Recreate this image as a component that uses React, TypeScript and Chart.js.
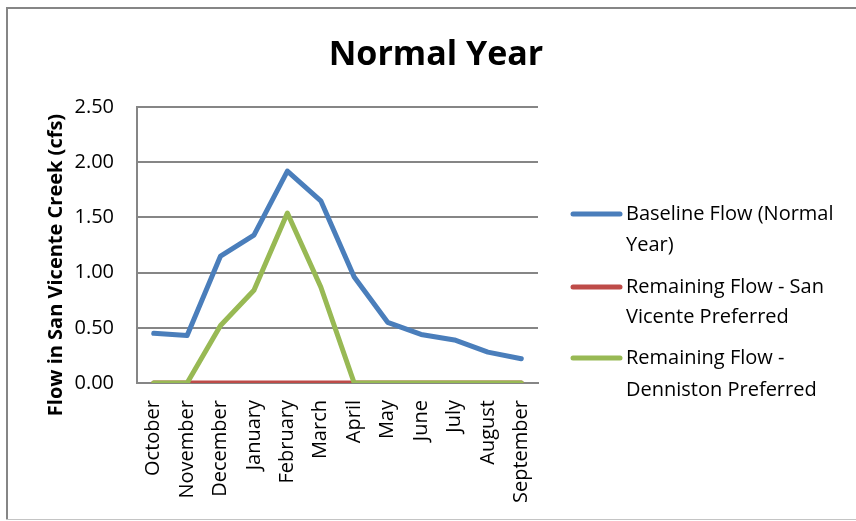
import React, { useEffect, useRef } from "react";
import { Chart, registerables } from "chart.js";

Chart.register(...registerables);

const months = ["October", "November", "December", "January", "February", "March", "April", "May", "June", "July", "August", "September"];
const baselineFlow = [0.45, 0.43, 1.15, 1.34, 1.92, 1.65, 0.96, 0.55, 0.44, 0.39, 0.28, 0.22];
const sanVicenteRemaining = [0, 0, 0, 0, 0, 0, 0, 0, 0, 0, 0, 0];
const dennistonRemaining = [0, 0, 0.52, 0.84, 1.54, 0.87, 0, 0, 0, 0, 0, 0];
const seriesNames = [
  ["Baseline Flow (Normal", "Year)"],
  ["Remaining Flow - San", "Vicente Preferred"],
  ["Remaining Flow -", "Denniston Preferred"],
];
const seriesColors = ["#4A7EBB", "#BE4B48", "#98B954"];
const titleText = "Normal Year";
const yTitleText = "Flow in San Vicente Creek (cfs)";

const FONT = "'Open Sans', sans-serif";

const decorPlugin = {
  id: "decor",
  beforeDraw(chart: any) {
    const ctx = chart.ctx;
    ctx.save();
    ctx.fillStyle = "#ffffff";
    ctx.fillRect(0, 0, chart.width, chart.height);
    ctx.fillStyle = "#868686";
    ctx.fillRect(6, 7, 2, 513);
    ctx.fillRect(6, 7, 850, 2);
    ctx.fillStyle = "#c4c4c4";
    ctx.fillRect(6, 519, 850, 1);
    ctx.restore();
  },
  afterDraw(chart: any) {
    const ctx = chart.ctx;
    ctx.save();
    // title
    ctx.fillStyle = "#000";
    ctx.font = `bold 34px ${FONT}`;
    ctx.textAlign = "center";
    ctx.textBaseline = "alphabetic";
    ctx.fillText(titleText, 436, 65);
    // y title
    ctx.save();
    ctx.translate(62, 265);
    ctx.rotate(-Math.PI / 2);
    ctx.font = `bold 20px ${FONT}`;
    ctx.textAlign = "center";
    ctx.textBaseline = "alphabetic";
    ctx.fillText(yTitleText, 0, 0);
    ctx.restore();
    // legend
    const ys = [[214, 245], [287, 317], [358, 390]];
    ctx.font = `20px ${FONT}`;
    ctx.textAlign = "left";
    ctx.textBaseline = "middle";
    seriesNames.forEach((lines, i) => {
      ctx.strokeStyle = seriesColors[i];
      ctx.lineWidth = 5;
      ctx.lineCap = "round";
      ctx.beginPath();
      ctx.moveTo(573, ys[i][0]);
      ctx.lineTo(620, ys[i][0]);
      ctx.stroke();
      ctx.fillStyle = "#000";
      lines.forEach((t, j) => ctx.fillText(t, 626, ys[i][j]));
    });
    ctx.restore();
  },
};

export default function App() {
  const ref = useRef<HTMLCanvasElement | null>(null);
  useEffect(() => {
    if (!ref.current) return;
    const mk = (label: string, data: number[], color: string, order: number) => ({
      label,
      data,
      borderColor: color,
      backgroundColor: color,
      borderWidth: 5,
      pointRadius: 0,
      pointHoverRadius: 0,
      tension: 0,
      borderJoinStyle: "round" as const,
      borderCapStyle: "round" as const,
      fill: false,
      order,
    });
    const chart = new Chart(ref.current, {
      type: "line",
      data: {
        labels: months,
        datasets: [
          mk(seriesNames[0].join(" "), baselineFlow, seriesColors[0], 2),
          mk(seriesNames[1].join(" "), sanVicenteRemaining, seriesColors[1], 1),
          mk(seriesNames[2].join(" "), dennistonRemaining, seriesColors[2], 0),
        ],
      },
      options: {
        animation: false,
        responsive: false,
        devicePixelRatio: 1,
        layout: { padding: { left: 0, top: 107, right: 318, bottom: 0 } },
        plugins: {
          legend: { display: false },
          title: { display: false },
          tooltip: { enabled: false },
        },
        scales: {
          x: {
            offset: true,
            grid: { display: false, drawTicks: false },
            border: { display: true, color: "#868686", width: 2 },
            ticks: {
              color: "#000",
              font: { family: FONT, size: 20 },
              minRotation: 90,
              maxRotation: 90,
              padding: 17,
              autoSkip: false,
            },
            afterFit: (scale: any) => {
              scale.height = 138;
            },
          },
          y: {
            min: 0,
            max: 2.5,
            grid: { color: "#868686", lineWidth: 2, drawTicks: false },
            border: { display: true, color: "#868686", width: 2 },
            ticks: {
              stepSize: 0.5,
              color: "#000",
              font: { family: FONT, size: 20 },
              padding: 23,
              callback: (v: any) => Number(v).toFixed(2),
            },
            afterFit: (scale: any) => {
              scale.width = 137;
            },
          },
        },
      },
      plugins: [decorPlugin],
    });
    return () => chart.destroy();
  }, []);
  return (
    <div style={{ position: "fixed", left: 0, top: 0, width: 856, height: 521, background: "#fff" }}>
      <canvas ref={ref} width={856} height={521} style={{ width: 856, height: 521, display: "block" }} />
    </div>
  );
}
